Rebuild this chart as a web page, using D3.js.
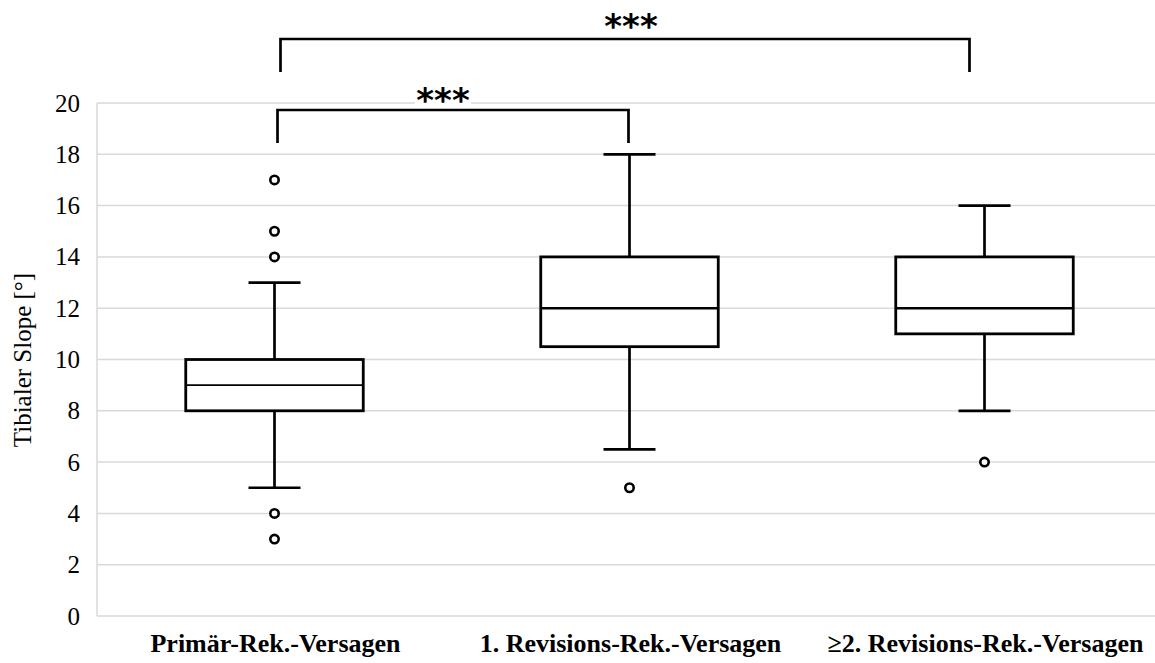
<!DOCTYPE html>
<html>
<head>
<meta charset="utf-8">
<script src="https://cdn.jsdelivr.net/npm/d3@7"></script>
<style>
  body { margin: 0; background: #fff; }
  svg { display: block; }
</style>
</head>
<body>
<div id="chart"></div>
<script>
'use strict';

const width = 1155;
const height = 663;

// Box plot values
const categories = ["Primär-Rek.-Versagen", "1. Revisions-Rek.-Versagen", "\u22652. Revisions-Rek.-Versagen"];
const q1 = [8, 10.5, 11];
const medians = [9, 12, 12];
const q3 = [10, 14, 14];
const whiskerLow = [5, 6.5, 8];
const whiskerHigh = [13, 18, 16];
const outliers = [[3, 4, 14, 15, 17], [5], [6]];
const yTicks = [0, 2, 4, 6, 8, 10, 12, 14, 16, 18, 20];

// significance brackets: [from, to, label]
const comparisons = [[0, 1, "***"], [0, 2, "***"]];

const svg = d3.select("#chart").append("svg")
	.attr("width", width)
	.attr("height", height);

const x = d3.scaleBand()
	.domain(categories)
	.range([97, 1162])
	.padding(0);

const y = d3.scaleLinear()
	.domain([0, 20])
	.range([616, 103]);

const cx = c => x(c) + x.bandwidth() / 2;
const boxW = x.bandwidth() * 0.5;
const capW = 52;

// Gridlines
svg.append("g")
	.selectAll("line")
	.data(yTicks)
	.enter().append("line")
	.attr("x1", 97)
	.attr("x2", width)
	.attr("y1", d => y(d))
	.attr("y2", d => y(d))
	.attr("stroke", "#d9d9d9")
	.attr("stroke-width", 1.5);

svg.append("line")
	.attr("x1", 97).attr("x2", 97)
	.attr("y1", y(20)).attr("y2", y(0))
	.attr("stroke", "#d9d9d9")
	.attr("stroke-width", 1.5);

// Y axis tick labels
const yAxis = d3.axisLeft(y).tickValues(yTicks).tickSize(0).tickPadding(17);
const yg = svg.append("g")
	.attr("transform", "translate(97,0)")
	.call(yAxis);
yg.select(".domain").remove();
yg.selectAll("text")
	.attr("font-family", "'Liberation Serif', 'Times New Roman', serif")
	.attr("font-size", "25px")
	.attr("fill", "#000");

// Y axis title
svg.append("text")
	.attr("transform", "translate(31,360) rotate(-90)")
	.attr("text-anchor", "middle")
	.attr("font-family", "'Liberation Serif', 'Times New Roman', serif")
	.attr("font-size", "25px")
	.attr("fill", "#000")
	.text("Tibialer Slope [°]");

// X labels
svg.append("g")
	.selectAll("text")
	.data(categories)
	.enter().append("text")
	.attr("x", d => cx(d) + 1)
	.attr("y", 652)
	.attr("text-anchor", "middle")
	.attr("font-family", "'Liberation Serif', 'Times New Roman', serif")
	.attr("font-weight", "bold")
	.attr("font-size", "26px")
	.attr("fill", "#000")
	.text(d => d);

// Boxes
const boxes = svg.append("g")
	.selectAll("g")
	.data(categories)
	.enter().append("g");

boxes.append("line")
	.attr("x1", d => cx(d)).attr("x2", d => cx(d))
	.attr("y1", (d, i) => y(whiskerHigh[i]))
	.attr("y2", (d, i) => y(q3[i]))
	.attr("stroke", "#000").attr("stroke-width", 2.7);

boxes.append("line")
	.attr("x1", d => cx(d)).attr("x2", d => cx(d))
	.attr("y1", (d, i) => y(q1[i]))
	.attr("y2", (d, i) => y(whiskerLow[i]))
	.attr("stroke", "#000").attr("stroke-width", 2.7);

boxes.selectAll(".cap")
	.data((d, i) => [whiskerLow[i], whiskerHigh[i]].map(v => ({ c: d, v })))
	.enter().append("line")
	.attr("class", "cap")
	.attr("x1", d => cx(d.c) - capW / 2)
	.attr("x2", d => cx(d.c) + capW / 2)
	.attr("y1", d => y(d.v))
	.attr("y2", d => y(d.v))
	.attr("stroke", "#000").attr("stroke-width", 2.7);

boxes.append("rect")
	.attr("x", d => cx(d) - boxW / 2)
	.attr("width", boxW)
	.attr("y", (d, i) => y(q3[i]))
	.attr("height", (d, i) => y(q1[i]) - y(q3[i]))
	.attr("fill", "#fff")
	.attr("stroke", "#000")
	.attr("stroke-width", 2.8);

boxes.append("line")
	.attr("x1", d => cx(d) - boxW / 2)
	.attr("x2", d => cx(d) + boxW / 2)
	.attr("y1", (d, i) => y(medians[i]))
	.attr("y2", (d, i) => y(medians[i]))
	.attr("stroke", "#000")
	.attr("stroke-width", (d, i) => i === 0 ? 1.7 : 2.6);

boxes.selectAll("circle")
	.data((d, i) => outliers[i].map(v => ({ c: d, v })))
	.enter().append("circle")
	.attr("cx", d => cx(d.c))
	.attr("cy", d => y(d.v))
	.attr("r", 4.2)
	.attr("fill", "#fff")
	.attr("stroke", "#000")
	.attr("stroke-width", 2.6);

// Significance brackets
const bracketTop = [110, 39];
const bracketDrop = 33;
const bracketInset = [[3, 1], [6, 15]];
const starShift = [-10, 6];

comparisons.forEach(([a, b, label], k) => {
	const x1 = cx(categories[a]) + bracketInset[k][0];
	const x2 = cx(categories[b]) - bracketInset[k][1];
	const top = bracketTop[k];
	const mid = (x1 + x2) / 2 + starShift[k];

	if (k === 0) {
		svg.append("rect")
			.attr("x", mid - 28).attr("y", top - 24)
			.attr("width", 56).attr("height", 20)
			.attr("fill", "#fff");
	}

	svg.append("path")
		.attr("d", `M${x1},${top + bracketDrop}V${top}H${x2}V${top + bracketDrop}`)
		.attr("fill", "none")
		.attr("stroke", "#000")
		.attr("stroke-width", 2.7);

	svg.append("text")
		.attr("x", mid)
		.attr("y", top + (k === 0 ? 2 : -1))
		.attr("text-anchor", "middle")
		.attr("font-family", "'DejaVu Sans', sans-serif")
		.attr("font-weight", "bold")
		.attr("font-size", "34px")
		.attr("fill", "#000")
		.text(label);
});
</script>
</body>
</html>
